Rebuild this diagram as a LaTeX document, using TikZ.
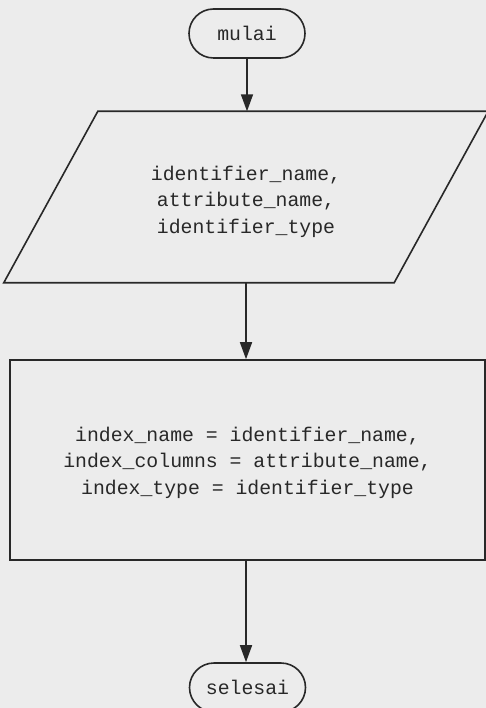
\documentclass[tikz,border=0pt]{standalone}
\usepackage{fontspec}
\setmonofont{Liberation Mono}
\usetikzlibrary{arrows.meta,shapes.misc}
\definecolor{bgc}{RGB}{236,236,236}
\definecolor{ink}{RGB}{40,40,40}
\begin{document}
\begin{tikzpicture}[x=1pt,y=-1pt,
  every node/.style={font=\ttfamily\fontsize{19.8}{26.5}\selectfont, text=ink, align=center, inner sep=0pt},
  term/.style={draw=ink, line width=1.6pt, rounded rectangle, minimum width=116pt, minimum height=49pt},
  procbox/.style={draw=ink, line width=1.6pt, rectangle, minimum width=475pt, minimum height=200pt},
  flow/.style={draw=ink, line width=1.6pt, -{Triangle[length=17pt,width=12pt]}}]
\fill[bgc] (0,0) rectangle (486,708);
\useasboundingbox (0,0) rectangle (486,708);
\node[term] (start) at (247,33.5) {mulai};
\node[minimum width=390pt, minimum height=171pt,
  label={[yshift=-4.5pt]center:{identifier\_name,\\attribute\_name,\\identifier\_type}}] (inp) at (246,197) {};
\draw[ink, line width=1.6pt] ([xshift=47pt]inp.north west) -- ([xshift=47pt]inp.north east) -- ([xshift=-47pt]inp.south east) -- ([xshift=-47pt]inp.south west) -- cycle;
\node[procbox,
  label={[yshift=-2.5pt]center:{index\_name = identifier\_name,\\index\_columns = attribute\_name,\\index\_type = identifier\_type}}] (proc) at (247.5,460) {};
\node[term] (stop) at (247.5,687.5) {selesai};
\draw[flow] (start.south) -- (start.south |- inp.north);
\draw[flow] (inp.south) -- (inp.south |- proc.north);
\draw[flow] (proc.south -| inp.south) -- (stop.north -| inp.south);
\end{tikzpicture}
\end{document}
